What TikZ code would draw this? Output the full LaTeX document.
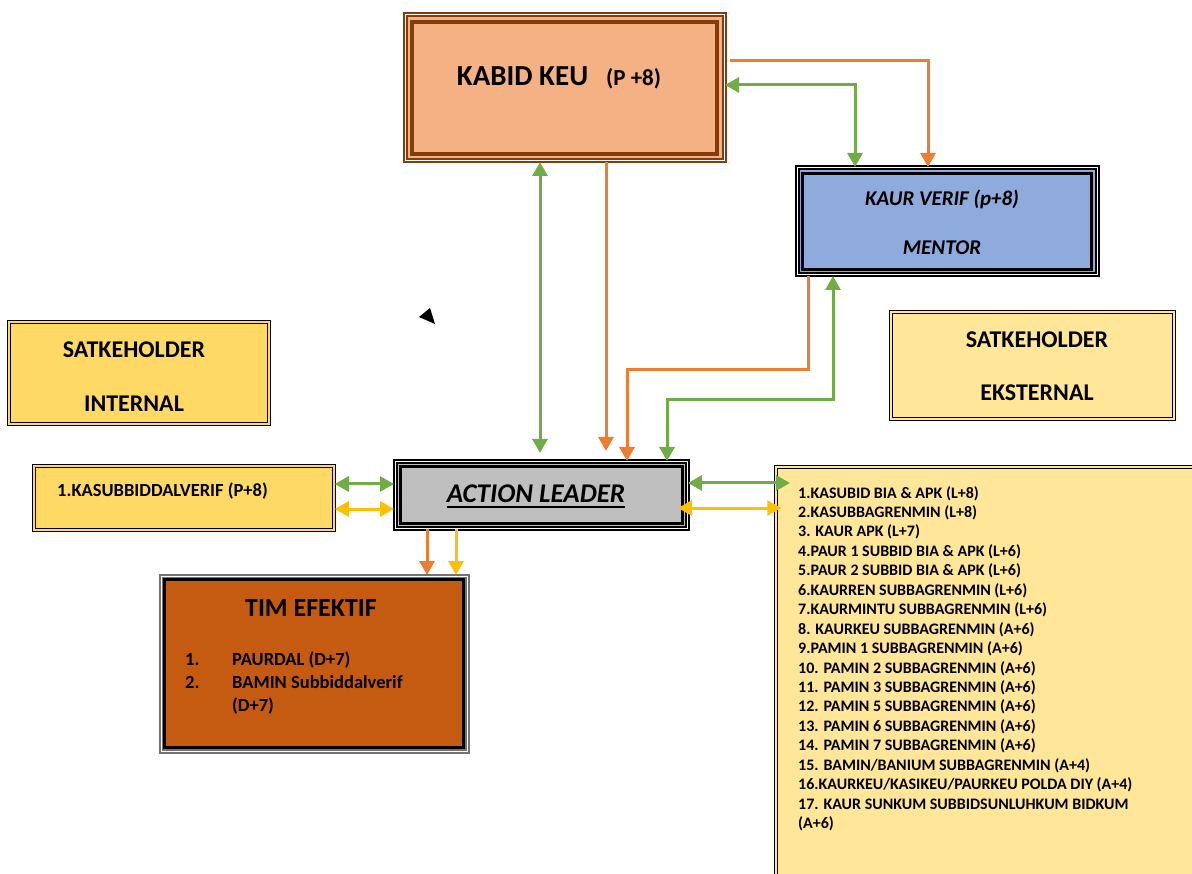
\documentclass[tikz,border=0pt]{standalone}
\usepackage{fontspec}
\setmainfont{Carlito}
\usetikzlibrary{positioning,arrows.meta}

\definecolor{kabidfill}{HTML}{F4B183}
\definecolor{kabidline}{HTML}{843C0C}
\definecolor{mentorfill}{HTML}{8FAADC}
\definecolor{gold}{HTML}{FFD966}
\definecolor{cream}{HTML}{FFE699}
\definecolor{leadgray}{HTML}{BFBFBF}
\definecolor{rust}{HTML}{C55A11}
\definecolor{lgreen}{HTML}{70AD47}
\definecolor{lorange}{HTML}{ED7D31}
\definecolor{lyellow}{HTML}{FFC000}

\newcommand\ulthick[1]{\sbox0{#1}\rlap{\rule[-6pt]{\wd0}{2pt}}\usebox0}

\begin{document}
\begin{tikzpicture}[x=1pt,y=-1pt,
    >={Triangle[width=15pt,length=14pt]},
    box/.style={draw=#1,line width=2pt,double=white,double distance=1pt,inner sep=0pt},
    softbox/.style={draw=black,line width=1.5pt,double=#1,double distance=1.3pt,fill=#1,inner sep=0pt},
    rim/.style={draw=#1,line width=3.5pt},
    txt/.style={inner sep=0pt,font=\fontsize{#1}{#1}\selectfont\bfseries},
    gline/.style={lgreen,line width=3pt},
    oline/.style={lorange,line width=3pt},
    yline/.style={lyellow,line width=3pt}]
  \useasboundingbox (0,0) rectangle (1192,874);

  \node[box=kabidline,fill=kabidfill,minimum width=319pt,minimum height=146pt] (kabid) at (564.5,88) {};
  \draw[rim=kabidline] ([shift={(8,8)}]kabid.north west) rectangle ([shift={(-8,-8)}]kabid.south east);
  \node[box=black,fill=mentorfill,minimum width=300pt,minimum height=107pt] (kaur) at (947,221.5) {};
  \draw[rim=black,line width=3pt] ([shift={(6.5,6.5)}]kaur.north west) rectangle ([shift={(-6.5,-6.5)}]kaur.south east);
  \node[softbox=gold,minimum width=260pt,minimum height=102pt] (satint) at (139,373) {};
  \node[softbox=gold,minimum width=300pt,minimum height=64pt] (kasub) at (184,498) {};
  \node[box=black,fill=leadgray,minimum width=292pt,minimum height=66pt] (action) at (541,495) {};
  \draw[rim=black,line width=3pt] ([shift={(6,6)}]action.north west) rectangle ([shift={(-6,-6)}]action.south east);
  \node[box=black!55,fill=rust,minimum width=306pt,minimum height=175pt] (timef) at (314,663.5) {};
  \draw[rim=black,line width=3pt] ([shift={(4.5,4.5)}]timef.north west) rectangle ([shift={(-4.5,-4.5)}]timef.south east);
  \node[softbox=cream,minimum width=283pt,minimum height=107pt] (satext) at (1032.5,365.5) {};
  \node[softbox=cream,minimum width=454pt,minimum height=433pt] (extlist) at (1003,683.5) {};

  \node[txt=29pt] (kabidlbl) at (559,78) {KABID KEU\hspace{18pt}{\fontsize{23pt}{23pt}\selectfont(P +8)}};
  \node[txt=21pt] (kaurlbl) at (942,199) {\itshape KAUR VERIF (p+8)};
  \node[txt=21pt] (mentorlbl) at (942,248) {\itshape MENTOR};
  \node[txt=24pt] (satint1) at (134,350) {SATKEHOLDER};
  \node[txt=24pt] (satint2) at (134,404) {INTERNAL};
  \node[txt=24pt] (satext1) at (1037,340) {SATKEHOLDER};
  \node[txt=24pt] (satext2) at (1037,393) {EKSTERNAL};
  \node[txt=18.5pt,anchor=west] (kasublbl) at (57,491) {1.KASUBBIDDALVERIF (P+8)};
  \node[txt=27pt,anchor=base] (actionlbl) at (536,502) {\ulthick{\itshape ACTION LEADER}};
  \node[txt=26pt] (timlbl) at (311,608) {TIM EFEKTIF};
  \node[inner sep=0pt,anchor=base west,font=\fontsize{18.5pt}{23pt}\selectfont\bfseries] (timlist) at (185,665)
    {\begin{tabular}[t]{@{}p{47pt}@{}l@{}}1.&PAURDAL (D+7)\\2.&BAMIN Subbiddalverif\\&(D+7)\end{tabular}};
  \node[inner sep=0pt,anchor=base west,font=\fontsize{16pt}{19.45pt}\selectfont\bfseries] (extlbl) at (798,498)
    {\begin{tabular}[t]{@{}l@{}}
      1.KASUBID BIA \& APK (L+8)\\
      2.KASUBBAGRENMIN (L+8)\\
      3. KAUR APK (L+7)\\
      4.PAUR 1 SUBBID BIA \& APK (L+6)\\
      5.PAUR 2 SUBBID BIA \& APK (L+6)\\
      6.KAURREN SUBBAGRENMIN (L+6)\\
      7.KAURMINTU SUBBAGRENMIN (L+6)\\
      8. KAURKEU SUBBAGRENMIN (A+6)\\
      9.PAMIN 1 SUBBAGRENMIN (A+6)\\
      10. PAMIN 2 SUBBAGRENMIN (A+6)\\
      11. PAMIN 3 SUBBAGRENMIN (A+6)\\
      12. PAMIN 5 SUBBAGRENMIN (A+6)\\
      13. PAMIN 6 SUBBAGRENMIN (A+6)\\
      14. PAMIN 7 SUBBAGRENMIN (A+6)\\
      15. BAMIN/BANIUM SUBBAGRENMIN (A+4)\\
      16.KAURKEU/KASIKEU/PAURKEU POLDA DIY (A+4)\\
      17. KAUR SUNKUM SUBBIDSUNLUHKUM BIDKUM\\
      (A+6)
    \end{tabular}};

  \coordinate (gup) at (540,453);
  \coordinate (oup) at (606,451);
  \coordinate (otop) at (928,61);
  \coordinate (gtop) at (855,85);
  \coordinate (obend) at (808,370);
  \coordinate (obend2) at (627,370);
  \coordinate (gbend) at (833,400);
  \coordinate (gbend2) at (667,400);
  \coordinate (leftg) at (0,484);
  \coordinate (lefty) at (0,509);
  \coordinate (rightg) at (790,483);
  \coordinate (righty) at (0,508);
  \coordinate (downo) at (427,0);
  \coordinate (downy) at (456,0);

  \draw[gline,<->] (kabid.south -| gup) -- (gup);
  \draw[oline,->] (kabid.south -| oup) -- (oup);
  \draw[oline,->,shorten <=5pt] (kabid.east |- otop) -- (otop) -- (kaur.north -| otop);
  \draw[gline,<->] (kabid.east |- gtop) -- (gtop) -- (kaur.north -| gtop);
  \draw[oline,->] (kaur.south -| obend) -- (obend) -- (obend2) -- (action.north -| obend2);
  \draw[gline,<->] (kaur.south -| gbend) -- (gbend) -- (gbend2) -- (action.north -| gbend2);
  \draw[gline,<->] (kasub.east |- leftg) -- (action.west |- leftg);
  \draw[yline,<->] (kasub.east |- lefty) -- (action.west |- lefty);
  \draw[gline,<->] (action.east |- rightg) -- (rightg);
  \draw[yline,<->,shorten <=-10pt,shorten >=-6pt] (action.east |- righty) -- (extlist.west |- righty);
  \draw[oline,->] (action.south -| downo) -- (timef.north -| downo);
  \draw[yline,->] (action.south -| downy) -- (timef.north -| downy);

  \fill (419,317) -- (430,308) -- (435,324) -- cycle;
\end{tikzpicture}
\end{document}
